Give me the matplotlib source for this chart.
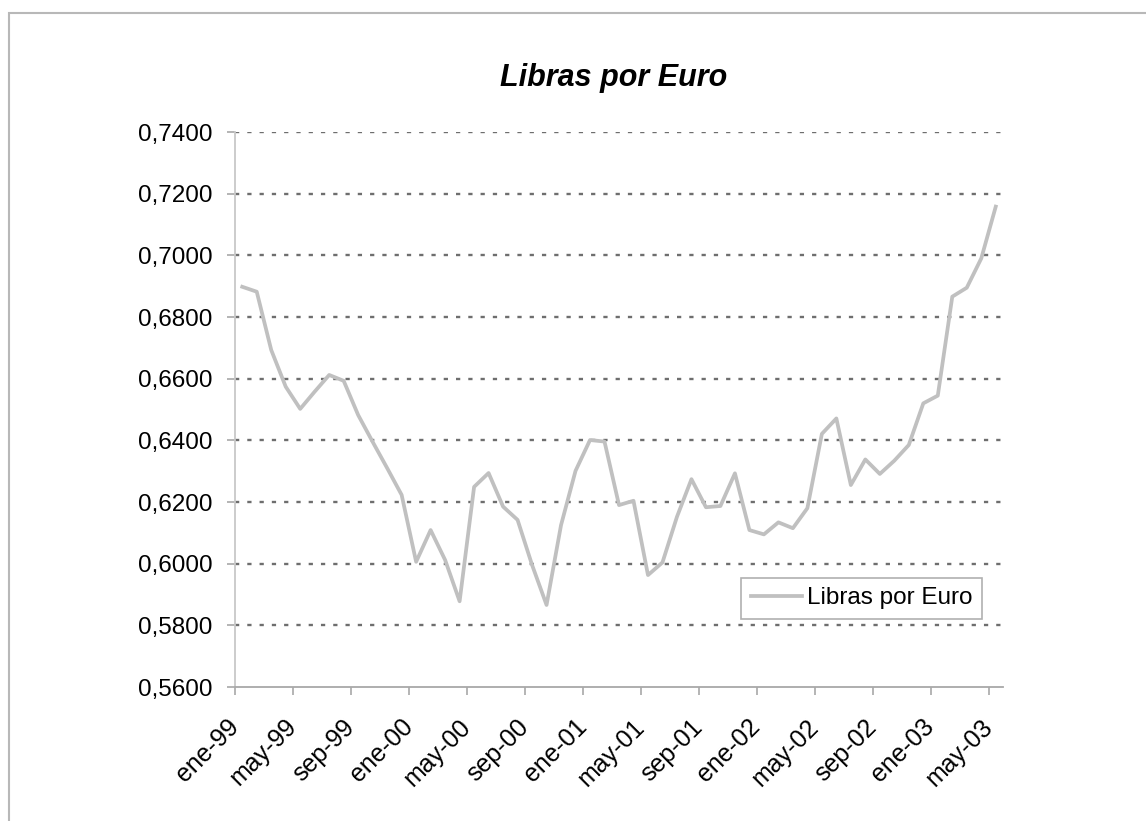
import matplotlib
matplotlib.use("Agg")
import matplotlib.pyplot as plt
from matplotlib.patches import Rectangle
from matplotlib.ticker import FuncFormatter, MultipleLocator
from matplotlib.transforms import ScaledTranslation

# month categories ene-99 .. may-03
mes = ["ene", "feb", "mar", "abr", "may", "jun", "jul", "ago", "sep", "oct", "nov", "dic"]
months = [f"{mes[m]}-{y:02d}" for y in [99, 0, 1, 2, 3] for m in range(12)][:53]

# values (libras por euro)
libras = [
    0.6898, 0.6882, 0.6693, 0.6574, 0.6502, 0.6558, 0.6612, 0.6593, 0.6482, 0.6395,
    0.6310, 0.6223, 0.6006, 0.6109, 0.6012, 0.5878, 0.6249, 0.6294, 0.6185, 0.6142,
    0.5996, 0.5866, 0.6125, 0.6301, 0.6401, 0.6396, 0.6190, 0.6204, 0.5963, 0.6004,
    0.6152, 0.6274, 0.6183, 0.6187, 0.6293, 0.6109, 0.6095, 0.6134, 0.6115, 0.6180,
    0.6421, 0.6471, 0.6255, 0.6338, 0.6291, 0.6334, 0.6385, 0.6520, 0.6545, 0.6866,
    0.6895, 0.6990, 0.7158,
]

tick_every = 4
title = "Libras por Euro"

plt.rcParams["font.family"] = ["Liberation Sans", "DejaVu Sans"]

fig = plt.figure(figsize=(11.46, 8.21), dpi=100)
ax = fig.add_axes([235 / 1146, 1 - 687 / 821, 768 / 1146, 555 / 821])

x = list(range(len(libras)))
ax.plot(x, libras, color="#c0c0c0", lw=2.7, label="Libras por Euro", zorder=3)

ax.set_xlim(-0.5, len(libras) - 0.5)
ax.set_ylim(0.56, 0.74)
ax.yaxis.set_major_locator(MultipleLocator(0.02))
ax.yaxis.set_major_formatter(FuncFormatter(lambda v, p: f"{v:.4f}".replace(".", ",")))

ticks = [i - 0.5 for i in range(0, len(libras), tick_every)]
ax.set_xticks(ticks)
ax.set_xticklabels([months[i] for i in range(0, len(libras), tick_every)],
                   rotation=45, ha="right", va="center", rotation_mode="anchor")
shift = ScaledTranslation(-4 / 100, 0, fig.dpi_scale_trans)
for lab in ax.get_xticklabels():
    lab.set_transform(lab.get_transform() + shift)

ax.grid(axis="y", color="#6e6e6e", lw=1.7, linestyle=(0, (1.8, 3.4)))
ax.set_axisbelow(True)
fig.canvas.draw()
# no dotted line on top of the x axis itself
for gl, t in zip(ax.get_ygridlines(), ax.get_yticks()):
    if abs(t - 0.56) < 1e-9:
        gl.set_visible(False)

for s in ["top", "right"]:
    ax.spines[s].set_visible(False)
ax.spines["left"].set_color("#c8c8c8")
ax.spines["bottom"].set_color("#a8a8a8")
ax.spines["left"].set_linewidth(1.3)
ax.spines["bottom"].set_linewidth(1.3)

ax.tick_params(axis="y", length=6, width=1.2, color="#a8a8a8", labelsize=17.5, pad=10)
ax.tick_params(axis="x", length=6, width=1.2, color="#a8a8a8", labelsize=18, pad=20)

leg = ax.legend(loc="lower right", bbox_to_anchor=(0.9727, 0.1225), borderaxespad=0,
                fontsize=17.5, fancybox=False, framealpha=1, edgecolor="#b0b0b0",
                handlelength=2.1, handletextpad=0.2, borderpad=0.4)
leg.get_frame().set_linewidth(1.2)

fig.text(614 / 1146, 1 - 86 / 821, title, ha="center", va="baseline",
         fontsize=22, fontweight="bold", fontstyle="italic")

fig.patches.append(Rectangle((9 / 1146, -0.1), 1.2, 1 - 13.5 / 821 + 0.1,
                             transform=fig.transFigure, fill=False,
                             edgecolor="#b8b8b8", lw=1.5))

fig.savefig("out.png", dpi=100)
